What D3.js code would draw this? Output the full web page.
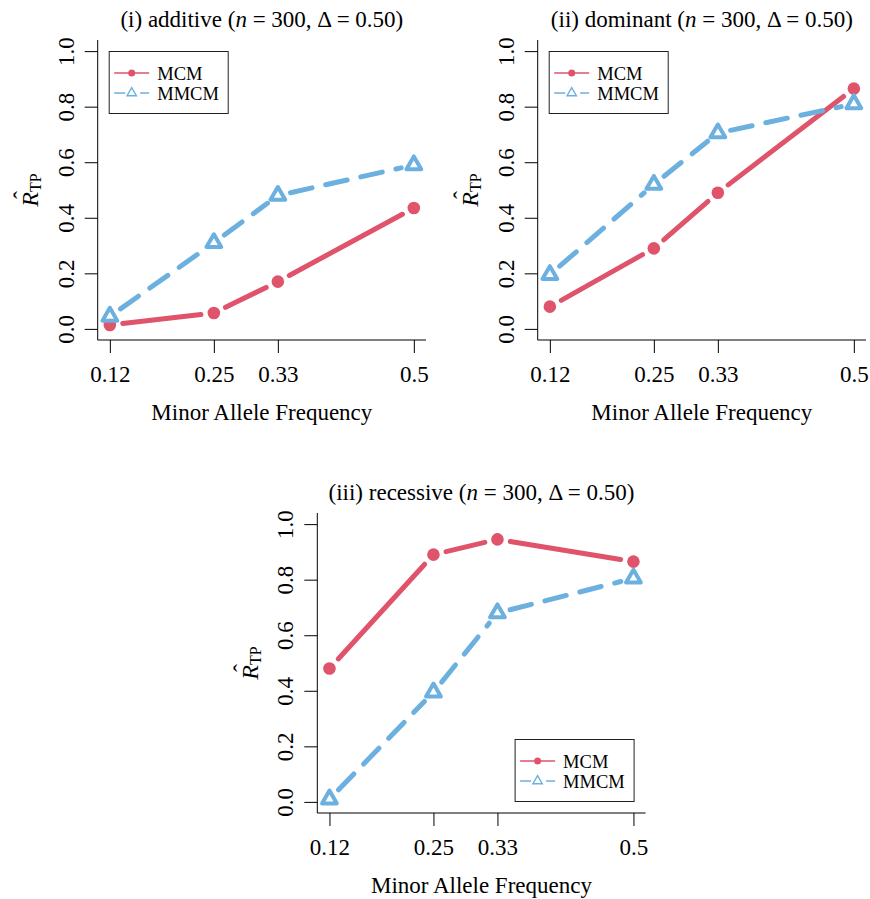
<!DOCTYPE html>
<html>
<head>
<meta charset="utf-8">
<script src="https://cdn.jsdelivr.net/npm/d3@7"></script>
<style>
body { margin: 0; background: #fff; }
svg text { font-family: "Liberation Serif", "Times New Roman", "DejaVu Serif", serif !important; fill: #000; }
</style>
</head>
<body>
<div id="chart"></div>
<script>

// values
var freqs = [0.12, 0.25, 0.33, 0.5],
    freqLabels = ["0.12", "0.25", "0.33", "0.5"],
    yTicks = [0, 0.2, 0.4, 0.6, 0.8, 1.0],
    seriesNames = ["MCM", "MMCM"],
    panelTitles = ["(i) additive", "(ii) dominant", "(iii) recessive"];

var additiveMCM = [0.014, 0.057, 0.17, 0.435],
    additiveMMCM = [0.045, 0.31, 0.48, 0.59];
var dominantMCM = [0.08, 0.29, 0.49, 0.865],
    dominantMMCM = [0.195, 0.52, 0.705, 0.81];
var recessiveMCM = [0.48, 0.89, 0.945, 0.865],
    recessiveMMCM = [0.01, 0.395, 0.68, 0.805];

var width = 870,
    height = 899;
var serif = "'Liberation Serif', 'Times New Roman', serif";
var plotL = 97.7, plotR = 426, plotT = 40, plotB = 340,
    gap = 13,
    red = "#DF536B",
    blue = "#6CB0E0";

// R style: 4% padding on both axes
var xPad = (freqs[freqs.length - 1] - freqs[0]) * 0.04;
var x = d3.scaleLinear()
    .domain([freqs[0] - xPad, freqs[freqs.length - 1] + xPad])
    .range([plotL, plotR]);
var y = d3.scaleLinear()
    .domain([-0.04, 1.04])
    .range([plotB, plotT]);

var svg = d3.select("#chart").append("svg")
    .attr("width", width)
    .attr("height", height)
    .attr("font-family", serif);
svg.append("rect").attr("width", width).attr("height", height).attr("fill", "#fff");

drawPanel(svg.append("g"), panelTitles[0], additiveMCM, additiveMMCM, "topleft");
drawPanel(svg.append("g").attr("transform", "translate(440,0)"), panelTitles[1], dominantMCM, dominantMMCM, "topleft");
drawPanel(svg.append("g").attr("transform", "translate(219.6,473)"), panelTitles[2], recessiveMCM, recessiveMMCM, "bottomright");


function drawPanel(g, title, mcm, mmcm, legendPos) {
  var cx = (plotL + plotR) / 2;

  var t = g.append("text")
      .attr("x", cx)
      .attr("y", 27)
      .attr("text-anchor", "middle")
      .attr("font-size", 23);
  t.append("tspan").text(title + " (");
  t.append("tspan").attr("font-style", "italic").text("n");
  t.append("tspan").text(" = 300, \u0394 = 0.50)");

  // bty = "l"
  g.append("path")
      .attr("d", "M" + plotL + "," + plotT + "V" + plotB + "H" + plotR)
      .attr("fill", "none")
      .attr("stroke", "#000")
      .attr("stroke-width", 1);

  var ax = g.append("g")
      .attr("transform", "translate(0," + plotB + ")")
      .call(d3.axisBottom(x)
        .tickValues(freqs)
        .tickSize(13)
        .tickFormat(function(d, i) { return freqLabels[i]; }));
  ax.attr("font-family", serif).attr("font-size", 23);
  ax.select(".domain").remove();
  ax.selectAll("text").attr("y", 42).attr("dy", 0);

  var ay = g.append("g")
      .attr("transform", "translate(" + plotL + ",0)")
      .call(d3.axisLeft(y)
        .tickValues(yTicks)
        .tickSize(13)
        .tickFormat(d3.format(".1f")));
  ay.attr("font-family", serif).attr("font-size", 23);
  ay.select(".domain").remove();
  ay.selectAll("text")
      .attr("x", 0)
      .attr("y", -24)
      .attr("dy", 0)
      .attr("transform", "rotate(-90)")
      .attr("text-anchor", "middle");

  g.append("text")
      .attr("x", cx)
      .attr("y", 420)
      .attr("text-anchor", "middle")
      .attr("font-size", 23)
      .text("Minor Allele Frequency");

  var yl = g.append("g")
      .attr("transform", "translate(38," + (plotT + plotB) / 2 + ") rotate(-90)");
  var yt = yl.append("text")
      .attr("text-anchor", "middle")
      .attr("font-size", 24);
  yt.append("tspan").attr("font-style", "italic").text("R");
  yt.append("tspan").attr("font-size", 16).attr("dy", 3).text("TP");
  yl.append("text")
      .attr("x", -5)
      .attr("y", -8)
      .attr("text-anchor", "middle")
      .attr("font-size", 24)
      .text("\u02C6");

  drawSeries(g, mcm, red, null, "circle");
  drawSeries(g, mmcm, blue, "22,14", "triangle");
  drawLegend(g, legendPos);
}

function drawSeries(g, vals, col, dash, shape) {
  var pts = freqs.map(function(f, i) { return [x(f), y(vals[i])]; });

  // type = "b": segments stop short of the points
  var segs = d3.pairs(pts).map(function(p) {
    var dx = p[1][0] - p[0][0],
        dy = p[1][1] - p[0][1],
        k = gap / Math.hypot(dx, dy);
    return [p[0][0] + dx * k, p[0][1] + dy * k, p[1][0] - dx * k, p[1][1] - dy * k];
  });

  g.selectAll(null)
      .data(segs)
      .enter().append("line")
      .attr("x1", function(d) { return d[0]; })
      .attr("y1", function(d) { return d[1]; })
      .attr("x2", function(d) { return d[2]; })
      .attr("y2", function(d) { return d[3]; })
      .attr("stroke", col)
      .attr("stroke-width", 5)
      .attr("stroke-linecap", "round")
      .attr("stroke-dasharray", dash);

  if (shape == "circle") {
    g.selectAll(null)
        .data(pts)
        .enter().append("circle")
        .attr("cx", function(d) { return d[0]; })
        .attr("cy", function(d) { return d[1]; })
        .attr("r", 6.3)
        .attr("fill", col);
  } else {
    g.selectAll(null)
        .data(pts)
        .enter().append("path")
        .attr("d", d3.symbol(d3.symbolTriangle, 95))
        .attr("transform", function(d) { return "translate(" + d[0] + "," + d[1] + ")"; })
        .attr("fill", "none")
        .attr("stroke", col)
        .attr("stroke-width", 4)
        .attr("stroke-linejoin", "round");
  }
}

function drawLegend(g, pos) {
  var bw = 119, bh = 62, inset = 11.5;
  var bx = pos == "topleft" ? plotL + inset : plotR - inset - bw;
  var by = pos == "topleft" ? plotT + inset : plotB - inset - bh;

  var lg = g.append("g").attr("transform", "translate(" + bx + "," + by + ")");
  lg.append("rect")
      .attr("width", bw)
      .attr("height", bh)
      .attr("fill", "#fff")
      .attr("stroke", "#222")
      .attr("stroke-width", 1);

  var rows = lg.selectAll(".legend-row")
      .data(seriesNames)
      .enter().append("g")
      .attr("class", "legend-row")
      .attr("transform", function(d, i) { return "translate(0," + (21.5 + i * 20) + ")"; });

  rows.append("line")
      .attr("x1", 5)
      .attr("x2", 40)
      .attr("stroke", function(d, i) { return i ? blue : red; })
      .attr("stroke-width", 1.5)
      .attr("stroke-dasharray", function(d, i) { return i ? "11,15" : null; });

  rows.filter(function(d, i) { return i == 0; })
      .append("circle")
      .attr("cx", 22.5)
      .attr("r", 3.5)
      .attr("fill", red);

  rows.filter(function(d, i) { return i == 1; })
      .append("path")
      .attr("d", d3.symbol(d3.symbolTriangle, 38))
      .attr("transform", "translate(22.5,0)")
      .attr("fill", "none")
      .attr("stroke", blue)
      .attr("stroke-width", 1.4);

  rows.append("text")
      .attr("x", 48)
      .attr("y", 6.5)
      .attr("font-size", 18.5)
      .text(function(d) { return d; });
}

</script>
</body>
</html>
